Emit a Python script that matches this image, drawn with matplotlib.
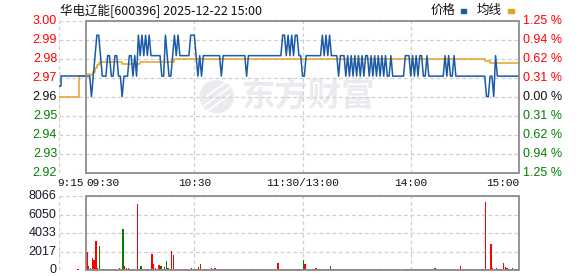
import matplotlib
matplotlib.use("Agg")
import matplotlib.pyplot as plt
from matplotlib.patches import Rectangle, Ellipse

plt.rcParams['font.family'] = ['Liberation Sans', 'Noto Sans CJK SC', 'DejaVu Sans']

# ---------------------------------------------------------------------------
# data
title = "华电辽能[600396] 2025-12-22 15:00"
pre_close = 2.96
pct_max = 1.25

price_labels = ["3.00", "2.99", "2.98", "2.97", "2.96", "2.95", "2.94", "2.93", "2.92"]
pct_labels = ["1.25 %", "0.94 %", "0.62 %", "0.31 %", "0.00 %", "0.31 %", "0.62 %", "0.94 %", "1.25 %"]
vol_labels = ["8066", "6050", "4033", "2017", "0"]
vol_max = 8066

time_labels = ["9:15", "09:30", "10:30", "11:30/13:00", "14:00", "15:00"]
time_minutes = [-15, 0, 60, 120, 180, 240]

# call auction 9:15-9:29 (minutes before 9:30)
pre_minutes = [-15, -14, -1]
pre_price = [2.965, 2.97, 2.97]

# minute prices 9:30 .. 15:00, in cents
price_cents = [
    297, 297, 297, 296, 297, 298, 299, 299, 298, 297,
    297, 297, 298, 298, 297, 297, 298, 298, 297, 297,
    296, 297, 297, 297, 298, 298, 297, 298, 297, 299,
    298, 299, 298, 299, 298, 299, 298, 298, 298, 298,
    298, 298, 297, 297, 299, 298, 297, 297, 298, 299,
    298, 299, 298, 298, 298, 298, 298, 298, 299, 299,
    299, 298, 297, 298, 297, 298, 298, 298, 298, 298,
    298, 298, 298, 298, 298, 297, 298, 298, 298, 298,
    298, 298, 298, 298, 298, 298, 298, 298, 298, 297,
    298, 298, 298, 298, 298, 298, 298, 298, 298, 298,
    298, 298, 298, 298, 298, 298, 298, 298, 298, 299,
    299, 298, 299, 298, 299, 298, 299, 299, 298, 298,
    297, 297, 298, 298, 298, 298, 298, 298, 298, 298,
    298, 299, 298, 299, 298, 299, 298, 298, 298, 298,
    297, 298, 298, 298, 297, 298, 297, 298, 297, 298,
    297, 298, 297, 298, 297, 298, 298, 297, 298, 297,
    298, 297, 298, 297, 298, 297, 298, 297, 297, 298,
    297, 297, 297, 297, 297, 297, 297, 298, 298, 298,
    297, 298, 297, 298, 297, 298, 298, 297, 297, 298,
    297, 297, 297, 297, 297, 297, 297, 297, 297, 298,
    297, 298, 297, 297, 298, 297, 297, 297, 297, 297,
    297, 297, 297, 297, 297, 297, 297, 297, 297, 297,
    297, 297, 296, 296, 297, 297, 296, 298, 297, 297,
    297, 297, 297, 297, 297, 297, 297, 297, 297, 297,
    297,
]

# average price: minute where it changes, new value
avg_change_min = [-15, -4, 0, 2, 4, 5, 6, 7, 8, 20, 30, 49, 221, 224, 240]
avg_change_val = [2.960, 2.970, 2.9712, 2.9705, 2.9722, 2.9738, 2.9752, 2.9763,
                  2.9771, 2.9757, 2.9771, 2.9786, 2.9773, 2.9763, 2.9763]

pre_vol_minute = [-5]
pre_vol = [150]

volume = [
    2000, 470, 250, 1340, 1130, 3200, 300, 2650, 120, 110,
    120, 110, 130, 120, 120, 110, 120, 110, 250, 120,
    4500, 470, 250, 220, 110, 120, 120, 110, 7230, 110,
    470, 120, 110, 120, 120, 110, 1780, 690, 250, 110,
    580, 470, 150, 360, 1020, 250, 110, 2100, 1670, 130,
    120, 110, 120, 120, 110, 110, 120, 120, 250, 110,
    120, 120, 400, 690, 110, 120, 120, 110, 110, 250,
    120, 250, 110, 120, 120, 110, 120, 110, 120, 120,
    110, 110, 120, 120, 120, 110, 120, 110, 110, 120,
    120, 110, 110, 120, 120, 120, 110, 110, 120, 120,
    110, 120, 110, 120, 120, 110, 800, 110, 120, 110,
    120, 120, 110, 120, 120, 110, 120, 110, 120, 120,
    1130, 730, 110, 120, 120, 110, 120, 250, 110, 120,
    120, 110, 120, 110, 120, 470, 110, 120, 110, 120,
    120, 110, 120, 110, 120, 110, 120, 120, 110, 110,
    120, 120, 120, 110, 120, 110, 110, 120, 120, 120,
    110, 120, 120, 120, 110, 110, 120, 120, 110, 120,
    120, 110, 110, 120, 0, 0, 120, 110, 120, 120,
    110, 110, 120, 120, 110, 120, 110, 120, 120, 110,
    110, 120, 120, 250, 110, 110, 120, 120, 110, 110,
    120, 120, 110, 120, 110, 110, 120, 470, 120, 110,
    110, 120, 120, 120, 110, 110, 120, 120, 110, 120,
    120, 7450, 120, 110, 2870, 250, 110, 250, 110, 120,
    120, 800, 360, 250, 110, 120, 250, 120, 110, 110,
    250,
]

green_minutes = [2, 7, 9, 13, 20, 25, 30, 33, 41, 44, 45, 52, 62, 66, 75, 89,
                 100, 112, 120, 128, 135, 140, 150, 160, 171, 180, 188, 193,
                 200, 210, 216, 229]

# ---------------------------------------------------------------------------
W, H = 578, 276
BLUE = "#1a5aa6"
GOLD = "#e0a428"
RED = "#ff0000"
GREEN = "#008000"
GRID = "#cfcfcf"
BOX = "#8c8c8c"

fig = plt.figure(figsize=(W / 100, H / 100), dpi=100)
fig.patch.set_facecolor("white")


def px_rect(x0, y0, x1, y1):
    return (x0 / W, 1 - y1 / H, (x1 - x0) / W, (y1 - y0) / H)


ax_p = fig.add_axes(px_rect(59, 20.8, 519, 172.5))
ax_v = fig.add_axes(px_rect(59, 196.3, 519, 270.3))

ylo = pre_close * (1 - pct_max / 100)
yhi = pre_close * (1 + pct_max / 100)
levels = [yhi - i * (yhi - ylo) / 8 for i in range(9)]

for ax in (ax_p, ax_v):
    ax.set_xlim(-15, 240)
    ax.set_xticks([])
    ax.set_yticks([])
    for s in ax.spines.values():
        s.set_visible(False)
    for m in (-15, 60, 120, 180):
        ax.axvline(m, color=GRID, lw=0.9, dashes=(3, 2.2), zorder=1)

# --- price panel -----------------------------------------------------------
ax_p.set_ylim(ylo, yhi)
for lv in levels:
    ax_p.axhline(lv, color=GRID, lw=0.9, dashes=(3, 2.2), zorder=1)
ax_p.add_patch(Rectangle((0, ylo), 240, yhi - ylo, fill=False, ec=BOX,
                         lw=1.3, clip_on=False, zorder=6))

# watermark: logo blob + name
wm = "#ebebef"
ax_p.add_patch(Ellipse((0.343, 0.50), 0.072, 0.21, transform=ax_p.transAxes,
                       color=wm, zorder=0))
for dy in (-0.05, 0.0, 0.05):
    ax_p.plot([0.315, 0.37], [0.44 + dy, 0.56 + dy], color="white", lw=1.2,
              transform=ax_p.transAxes, zorder=0)
ax_p.text(0.54, 0.50, "东方财富", transform=ax_p.transAxes, ha="center",
          va="center", fontsize=24, fontweight="bold", color=wm,
          family=["Noto Sans CJK SC"], zorder=0)

minutes = list(range(len(price_cents)))
prices = [c / 100 for c in price_cents]
ax_p.plot(pre_minutes, pre_price, color=BLUE, lw=1.1, zorder=4,
          drawstyle="steps-post")
ax_p.plot([pre_minutes[-1]] + minutes, [pre_price[-1]] + prices,
          color=BLUE, lw=1.1, zorder=4)
ax_p.plot(avg_change_min, avg_change_val, color=GOLD, lw=1.1, zorder=3,
          drawstyle="steps-post")

ytr = ax_p.get_yaxis_transform()
for i, (lv, lab, pct) in enumerate(zip(levels, price_labels, pct_labels)):
    col = RED if i < 4 else ("#111111" if i == 4 else GREEN)
    ax_p.text(-0.004, lv, lab, transform=ytr, ha="right", va="center",
              fontsize=9, color=col)
    ax_p.text(1.009, lv, pct, transform=ytr, ha="left", va="center",
              fontsize=9, color=col)

xtr = ax_p.get_xaxis_transform()
for m, lab in zip(time_minutes, time_labels):
    ha = "center"
    dx = 0
    if m == -15:
        ha, dx = "left", -1.0
    elif m == 0:
        ha, dx = "left", 0.4
    elif m == 240:
        ha = "right"
    ax_p.text(m + dx, -0.068, lab, transform=xtr, ha=ha, va="center",
              fontsize=8, family=["Liberation Mono"], color="#111111")

# --- volume panel ----------------------------------------------------------
ax_v.set_ylim(0, vol_max)
vlevels = [vol_max * (4 - i) / 4 for i in range(5)]
for lv in vlevels:
    ax_v.axhline(lv, color=GRID, lw=0.9, dashes=(3, 2.2), zorder=1)
ax_v.add_patch(Rectangle((0, 0), 240, vol_max, fill=False, ec=BOX,
                         lw=1.3, clip_on=False, zorder=6))

cols = [GREEN if m in green_minutes else RED for m in minutes]
ax_v.bar([m + 0.45 for m in minutes], volume, width=0.8, color=cols,
         zorder=4, linewidth=0, antialiased=False)
ax_v.bar([m + 0.45 for m in pre_vol_minute], pre_vol, width=0.8, color=RED,
         zorder=4, linewidth=0, antialiased=False)

vtr = ax_v.get_yaxis_transform()
for lv, lab in zip(vlevels, vol_labels):
    ax_v.text(-0.006, lv, lab, transform=vtr, ha="right", va="center",
              fontsize=9, color="#1a1a2a")

# --- header ----------------------------------------------------------------
fig.text(60 / W, 1 - 10.5 / H, title, ha="left", va="center", fontsize=9,
         family=["Noto Sans CJK SC"], color="#111111")
fig.text(431 / W, 1 - 10.5 / H, "价格", ha="left", va="center", fontsize=9,
         family=["Noto Sans CJK SC"], color="#111111")
fig.patches.append(Rectangle((461 / W, 1 - 12.5 / H), 5 / W, 3 / H,
                             transform=fig.transFigure, color=BLUE))
fig.text(477 / W, 1 - 10.5 / H, "均线", ha="left", va="center", fontsize=9,
         family=["Noto Sans CJK SC"], color="#111111")
fig.patches.append(Rectangle((508 / W, 1 - 12.5 / H), 6 / W, 3 / H,
                             transform=fig.transFigure, color=GOLD))

fig.savefig("out.png", dpi=100, facecolor="white")
